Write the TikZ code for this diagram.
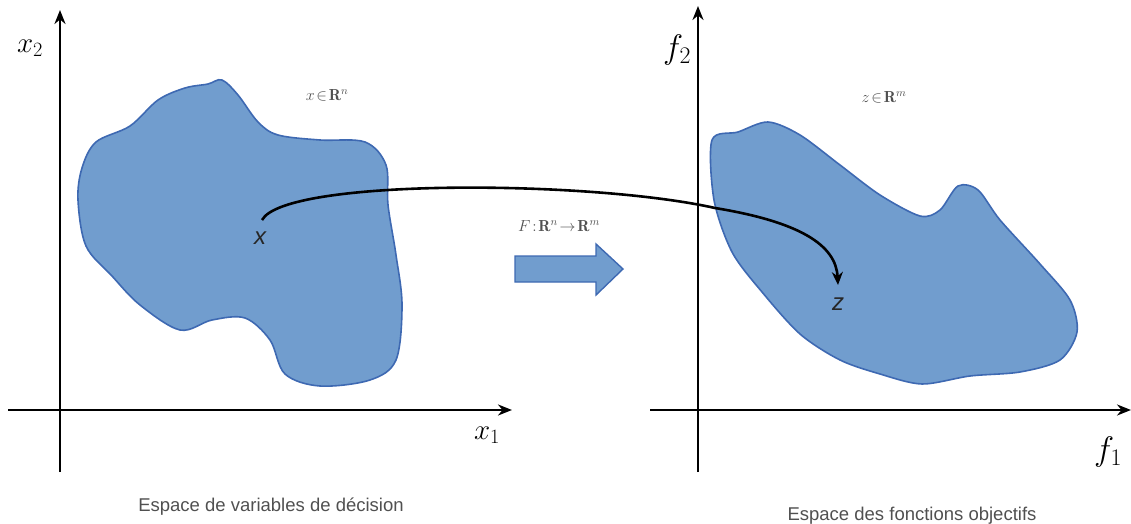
\RequirePackage{fix-cm}
\documentclass[tikz,border=0pt]{standalone}
\usepackage{fontspec}
\usepackage{amssymb}
\setsansfont{Liberation Sans}
\usetikzlibrary{arrows.meta}
\definecolor{blobfill}{RGB}{113,157,206}
\definecolor{blobdraw}{RGB}{62,105,178}
\definecolor{capgray}{RGB}{80,80,80}
\tikzset{
  axis/.style={line width=2.6pt,-{Stealth[length=14pt,width=11pt]}},
  blob/.style={fill=blobfill,draw=blobdraw,line width=1.6pt},
  axlabel/.style={font=\fontsize{29}{31}\selectfont},
  flabel/.style={font=\fontsize{34}{36}\selectfont},
  ptlabel/.style={font=\fontsize{24}{26}\selectfont\sffamily\itshape,text=black!85},
  setlabel/.style={font=\fontsize{16}{18}\selectfont\sffamily,text=capgray},
  caption/.style={font=\fontsize{18.5}{20}\selectfont\sffamily,text=capgray},
  maparrow/.style={line width=2.6pt,-{Stealth[length=13pt,width=11pt]}}
}
\begin{document}
\begin{tikzpicture}[x=1pt,y=-1pt]
\useasboundingbox (0,0) rectangle (1131,524);
% blobs
\draw[blob] plot[smooth cycle,tension=0.55] coordinates {
 (130,126) (158,100) (185,88) (208,84) (222,80) (238,95) (258,122) (278,135)
 (320,140) (365,142) (386,165) (388,205) (396,255) (402,305) (396,360) (370,380)
 (320,386) (285,374) (270,340) (245,318) (212,320) (180,330) (140,305) (112,276)
 (86,246) (78,200) (82,168) (96,142)};
\draw[blob] plot[smooth cycle,tension=0.5] coordinates {
 (712,140) (738,132) (768,122) (800,135) (840,165) (880,195) (920,216) (940,210)
 (958,186) (978,190) (1000,220) (1040,264) (1070,300) (1077,332) (1060,360)
 (1020,372) (970,376) (922,384) (880,374) (840,360) (800,334) (762,292)
 (732,252) (714,200)};
% axes
\coordinate (lyb) at (60,472);
\coordinate (lyt) at (60,10);
\coordinate (lxl) at (8,410);
\coordinate (lxr) at (512,410);
\coordinate (ryb) at (698,472);
\coordinate (ryt) at (698,6);
\coordinate (rxl) at (650,410);
\coordinate (rxr) at (1131,410);
\draw[axis] (lyb) -- (lyt);
\draw[axis] (lxl) -- (lxr);
\draw[axis] (ryb) -- (ryt);
\draw[axis] (rxl) -- (rxr);
\node[axlabel] (x2) at (30,48) {$x_2$};
\node[axlabel] (x1) at (487,435) {$x_1$};
\node[flabel] (f2) at (677,50) {$f_2$};
\node[flabel] (f1) at (1108,452) {$f_1$};
% set labels
\node[setlabel] (xset) at (327,95) {$x\!\in\!\mathbf{R}^{n}$};
\node[setlabel] (zset) at (884,97) {$z\!\in\!\mathbf{R}^{m}$};
% points and mapping curve
\node[ptlabel] (xpt) at (260,238) {x};
\node[ptlabel] (zpt) at (838,304) {z};
\coordinate (cstart) at (262,220);
\coordinate (cmid) at (715,208);
\coordinate (cend) at (838,285);
\draw[maparrow] (cstart) .. controls (285,178) and (590,180) .. (cmid)
  .. controls (800,222) and (836,245) .. (cend);
% block arrow
\node[font=\fontsize{16}{18}\selectfont\sffamily,text=capgray] (flab) at (559,226)
  {$F\!:\!\mathbf{R}^{n}\!\rightarrow\!\mathbf{R}^{m}$};
\draw[blob,line width=1.4pt] (515,256) -- (596,256) -- (596,244) -- (623,269)
  -- (596,295) -- (596,282) -- (515,282) -- cycle;
% captions
\node[caption] (cap1) at (271,507) {Espace de variables de d\'ecision};
\node[caption] (cap2) at (912,516) {Espace des fonctions objectifs};
\end{tikzpicture}
\end{document}
